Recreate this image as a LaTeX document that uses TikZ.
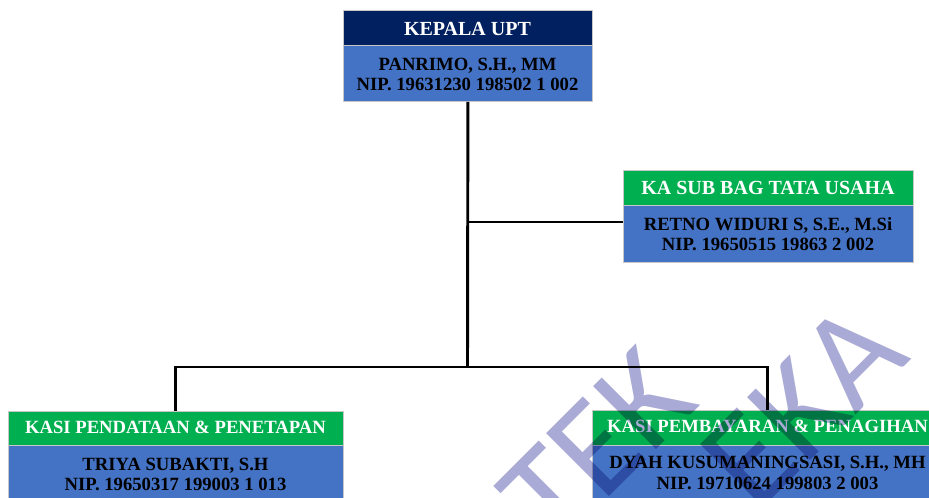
\documentclass[tikz,border=0pt]{standalone}
\usepackage{fontspec}
\setmainfont{Liberation Serif}
\newfontfamily\wmfont{Carlito}
\definecolor{navy}{RGB}{0,32,96}
\definecolor{ogreen}{RGB}{0,176,80}
\definecolor{oblue}{RGB}{68,114,196}
\definecolor{wmlav}{RGB}{170,170,214}
\begin{document}
\begin{tikzpicture}[x=0.75pt,y=-0.75pt,
  box/.style={draw=black!22, line width=0.6pt, inner sep=0, anchor=north west},
  hdrtxt/.style={text=white, font=\bfseries\fontsize{15}{18}\selectfont, anchor=base, inner sep=0},
  hdrtxtb/.style={hdrtxt, font=\bfseries\fontsize{14}{17}\selectfont},
  bodytxt/.style={text=black, font=\bfseries\fontsize{14}{17}\selectfont, anchor=base, inner sep=0},
  conn/.style={line width=2.2pt, black},
  wm/.style={text=wmlav, font=\wmfont\fontsize{104}{104}\selectfont, inner sep=0, anchor=base west, rotate=45}]
\useasboundingbox (0,0) rectangle (929,498);
\clip (0,0) rectangle (929,498);
\fill[white] (0,0) rectangle (929,498);

% head of the unit
\node[box, fill=navy, minimum width=249*0.75pt, minimum height=35*0.75pt] (b1hdr) at (343,10) {};
\node[box, fill=oblue, minimum width=249*0.75pt, minimum height=56*0.75pt] (b1body) at (343,45) {};
\node[hdrtxt] (t1a) at (467.5,35.5) {KEPALA UPT};
\node[bodytxt] (t1b) at (467.5,70.5) {PANRIMO, S.H., MM};
\node[bodytxt] (t1c) at (467.5,91) {NIP. 19631230 198502 1 002};

% administration
\node[box, fill=ogreen, minimum width=290*0.75pt, minimum height=35*0.75pt] (b2hdr) at (623,170) {};
\node[box, fill=oblue, minimum width=290*0.75pt, minimum height=57*0.75pt] (b2body) at (623,205) {};
\node[hdrtxt] (t2a) at (768,194.5) {KA SUB BAG TATA USAHA};
\node[bodytxt] (t2b) at (768,230.5) {RETNO WIDURI S, S.E., M.Si};
\node[bodytxt] (t2c) at (768,251) {NIP. 19650515 19863 2 002};

% data collection section
\node[box, fill=ogreen, minimum width=335*0.75pt, minimum height=34*0.75pt] (b3hdr) at (8,411) {};
\node[box, fill=oblue, minimum width=335*0.75pt, minimum height=80*0.75pt] (b3body) at (8,445) {};
\node[hdrtxtb] (t3a) at (175.5,434) {KASI PENDATAAN \& PENETAPAN};
\node[bodytxt] (t3b) at (175.5,470.5) {TRIYA SUBAKTI, S.H};
\node[bodytxt] (t3c) at (175.5,490.5) {NIP. 19650317 199003 1 013};

% payment section
\node[box, fill=ogreen, minimum width=351*0.75pt, minimum height=35*0.75pt] (b4hdr) at (592,410) {};
\node[box, fill=oblue, minimum width=351*0.75pt, minimum height=80*0.75pt] (b4body) at (592,445) {};
\node[hdrtxtb] (t4a) at (767.5,433) {KASI PEMBAYARAN \& PENAGIHAN};
\node[bodytxt] (t4b) at (767.5,469) {DYAH KUSUMANINGSASI, S.H., MH};
\node[bodytxt] (t4c) at (767.5,489.5) {NIP. 19710624 199803 2 003};

% connectors
\coordinate (j) at (467.5,367);
\coordinate (t) at (0,222);
\draw[conn] (b1body.south) -- (j);
\draw[conn] (b3hdr.north) |- (j) -| (b4hdr.north);
\draw[conn] (b1body.south |- t) -- (b2body.west |- t);

% watermark
\begin{scope}[blend mode=multiply]
\node[wm] (wm1) at (555,551) {TEK};
\node[wm] (wm2) at (756,515) {EKA};
\end{scope}
\end{tikzpicture}
\end{document}
